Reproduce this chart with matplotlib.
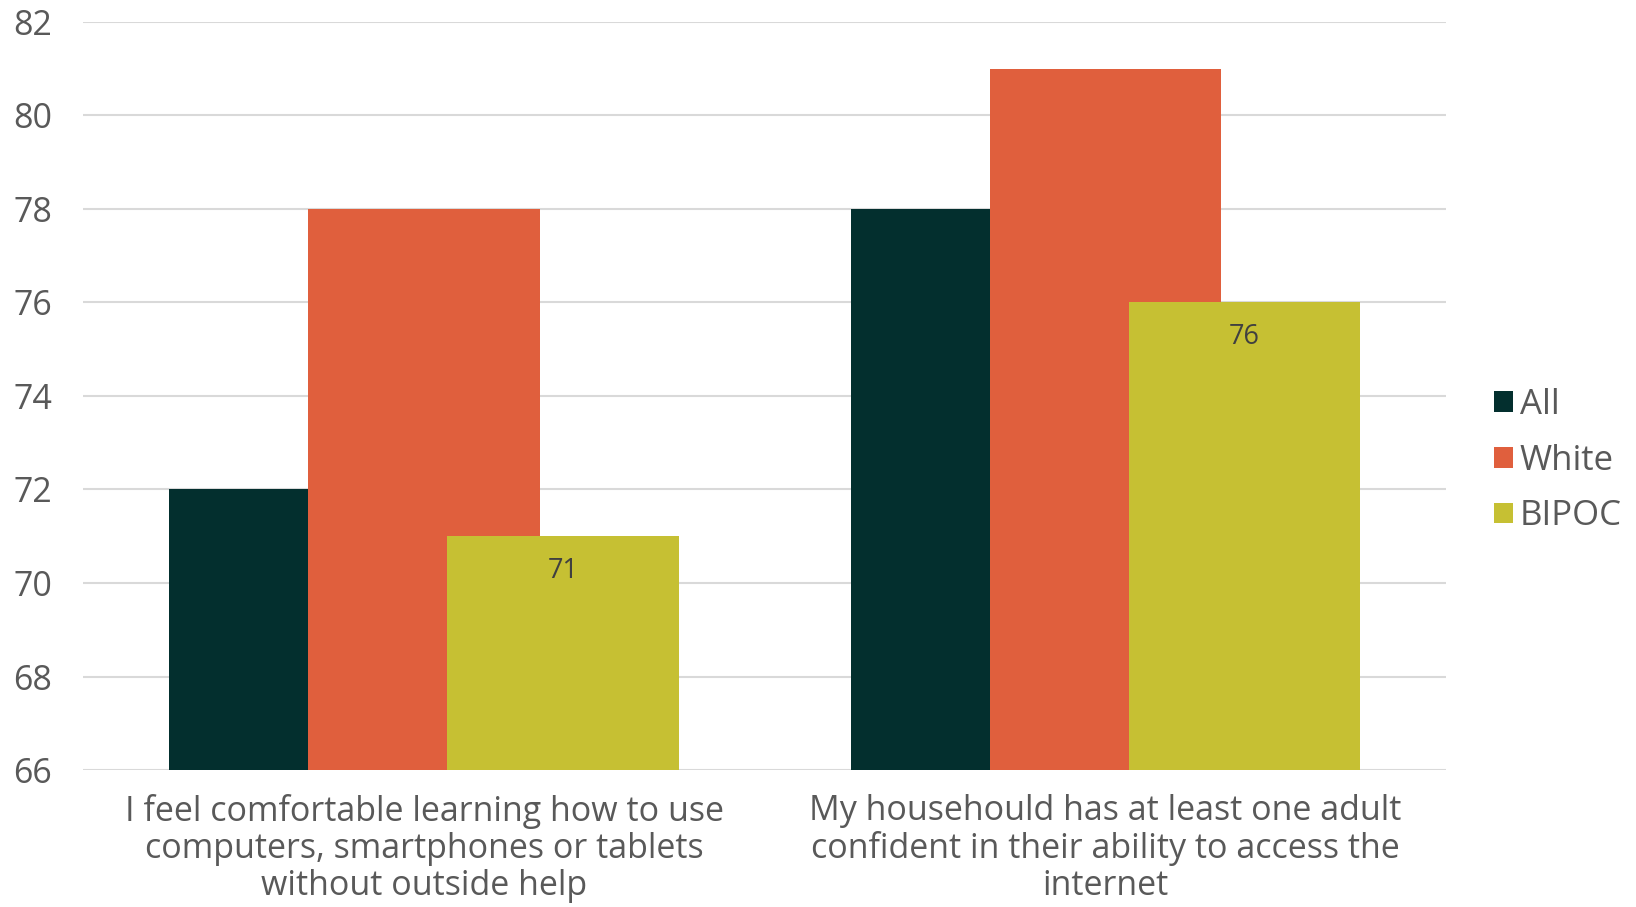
import matplotlib
matplotlib.use("Agg")
import matplotlib.pyplot as plt
import numpy as np

categories = ["I feel comfortable learning how to use\ncomputers, smartphones or tablets\nwithout outside help",
              "My househould has at least one adult\nconfident in their ability to access the\ninternet"]
series_names = ["All", "White", "BIPOC"]
all_vals = [72, 78]
white_vals = [78, 81]
bipoc_vals = [71, 76]
colors = ["#032F2E", "#E05F3D", "#C6C033"]
yticks = [66, 68, 70, 72, 74, 76, 78, 80, 82]

plt.rcParams['font.family'] = ['Open Sans', 'DejaVu Sans']

fig = plt.figure(figsize=(16.36, 9.07), dpi=100)
ax = fig.add_axes([0.051, 0.151, 0.833, 0.825])

x = np.arange(len(categories))
width = 0.34
offset = 0.204
vals = [all_vals, white_vals, bipoc_vals]
bars = []
for i, (name, v, c) in enumerate(zip(series_names, vals, colors)):
    b = ax.bar(x + (i - 1) * offset, np.array(v) - 66, bottom=66, width=width,
               color=c, label=name, zorder=2 + i)
    bars.append(b)

for rect, v in zip(bars[2], bipoc_vals):
    ax.annotate(str(v), (rect.get_x() + rect.get_width() / 2, v),
                xytext=(0, -25), textcoords="offset points",
                ha="center", va="center", fontsize=19.5, color="#404040", zorder=10)

ax.set_xlim(-0.5, 1.5)
ax.set_ylim(66, 82)
ax.set_yticks(yticks)
ax.set_yticklabels([str(t) for t in yticks], fontsize=24.5, color="#595959")
ax.set_xticks(x)
ax.set_xticklabels(categories, fontsize=24.5, color="#595959", linespacing=1.12)
ax.tick_params(axis='both', length=0)
ax.tick_params(axis='y', pad=22.5)
ax.tick_params(axis='x', pad=17)
ax.grid(axis='y', color="#D9D9D9", linewidth=1.5, zorder=0)
ax.set_axisbelow(True)
for s in ax.spines.values():
    s.set_visible(False)

leg = fig.legend(loc="center left", bbox_to_anchor=(0.9045, 0.492), frameon=False,
                 fontsize=25, handlelength=0.55, handleheight=0.55, handletextpad=0.2,
                 labelspacing=0.62, borderaxespad=0)
for t in leg.get_texts():
    t.set_color("#595959")

fig.savefig("out.png", dpi=100)
